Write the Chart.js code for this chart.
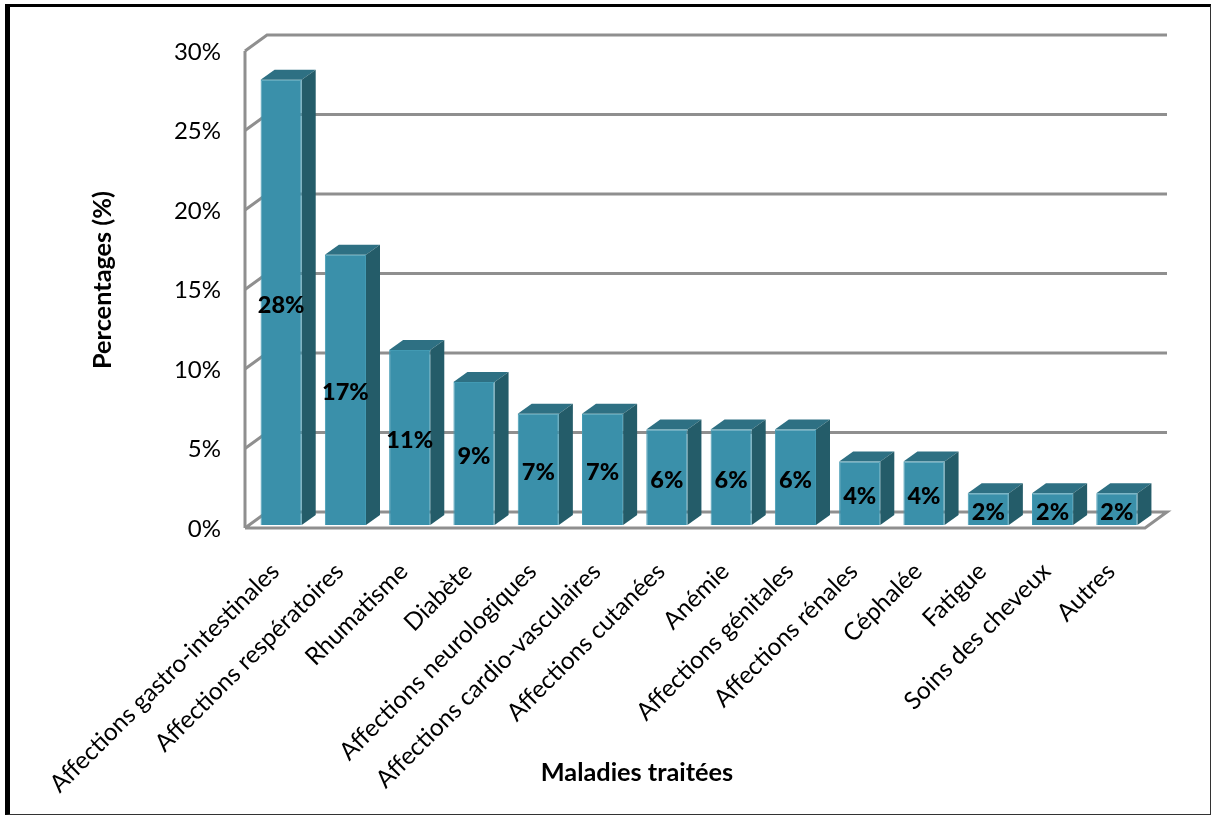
<!DOCTYPE html>
<html lang="fr">
<head>
<meta charset="utf-8">
<title>Maladies traitées</title>
<script src="https://cdn.jsdelivr.net/npm/chart.js@4/dist/chart.umd.min.js"></script>
<style>
  body { margin: 0; background: #fff; }
  #frame {
    position: absolute; left: 5px; top: 4px; width: 1206px; height: 811px;
    box-sizing: border-box; pointer-events: none;
    border-left: 5px solid #000; border-top: 3px solid #000;
    border-right: 1px solid #333; border-bottom: 1px solid #333;
  }
  canvas { position: absolute; left: 0; top: 0; }
</style>
</head>
<body>
<canvas id="chart" width="1212" height="816"></canvas>
<div id="frame"></div>
<script>
const categories = [
  "Affections gastro-intestinales", "Affections respératoires", "Rhumatisme", "Diabète",
  "Affections neurologiques", "Affections cardio-vasculaires", "Affections cutanées", "Anémie",
  "Affections génitales", "Affections rénales", "Céphalée", "Fatigue", "Soins des cheveux", "Autres"
];
const percentages = [28, 17, 11, 9, 7, 7, 6, 6, 6, 4, 4, 2, 2, 2];
const yTicks = [0, 5, 10, 15, 20, 25, 30];
const xTitle = "Maladies traitées";
const yTitle = "Percentages (%)";

const fontName = 'Lato, "Open Sans", sans-serif';
const gridColor = '#8f8f8f';

// walls and floor sit around the plane of the bar faces
const front = { dx: -4, dy: 3 };
const back = { dx: 18, dy: -13 };
const depth = { dx: 14, dy: -10 };

function line(ctx, points) {
  ctx.beginPath();
  points.forEach((p, i) => i ? ctx.lineTo(p[0], p[1]) : ctx.moveTo(p[0], p[1]));
  ctx.stroke();
}

function poly(ctx, points, color) {
  ctx.beginPath();
  points.forEach((p, i) => i ? ctx.lineTo(p[0], p[1]) : ctx.moveTo(p[0], p[1]));
  ctx.closePath();
  ctx.fillStyle = color;
  ctx.fill();
}

const box3d = {
  id: 'box3d',
  beforeDatasetsDraw(chart) {
    const { ctx, chartArea, scales } = chart;
    const l = chartArea.left, r = chartArea.right;
    ctx.save();
    ctx.strokeStyle = gridColor;
    ctx.lineWidth = 3;
    ctx.lineCap = 'butt';
    ctx.lineJoin = 'miter';

    // floor
    const y0 = scales.y.getPixelForValue(0);
    line(ctx, [
      [l + front.dx, y0 + front.dy], [r + front.dx, y0 + front.dy],
      [r + back.dx, y0 + back.dy], [l + back.dx, y0 + back.dy], [l + front.dx, y0 + front.dy]
    ]);

    // left wall and back grid
    const yTop = scales.y.getPixelForValue(30);
    line(ctx, [[l + front.dx, yTop + front.dy], [l + front.dx, y0 + front.dy]]);
    yTicks.filter(v => v > 0).forEach(v => {
      const y = scales.y.getPixelForValue(v);
      line(ctx, [[l + front.dx, y + front.dy], [l + back.dx, y + back.dy], [r + back.dx, y + back.dy]]);
    });

    // top and side of each bar
    chart.getDatasetMeta(0).data.forEach(bar => {
      const left = bar.x - bar.width / 2;
      const right = bar.x + bar.width / 2;
      poly(ctx, [[left, bar.y], [right, bar.y], [right + depth.dx, bar.y + depth.dy], [left + depth.dx, bar.y + depth.dy]], '#2e7083');
      poly(ctx, [[right, bar.y], [right + depth.dx, bar.y + depth.dy], [right + depth.dx, bar.base + depth.dy], [right, bar.base]], '#245c69');
    });
    ctx.restore();
  },
  afterDatasetsDraw(chart) {
    const { ctx } = chart;
    ctx.save();
    ctx.fillStyle = '#000';
    ctx.textAlign = 'center';
    ctx.textBaseline = 'middle';

    // value in the middle of each bar
    ctx.font = '900 23.5px ' + fontName;
    chart.getDatasetMeta(0).data.forEach((bar, i) => {
      ctx.fillText(percentages[i] + '%', bar.x, (bar.y + bar.base) / 2 + 3);
    });

    // axis titles
    ctx.font = 'bold 25.3px ' + fontName;
    ctx.fillText(xTitle, 637, 773);
    ctx.translate(103, 280);
    ctx.rotate(-Math.PI / 2);
    ctx.fillText(yTitle, 0, 0);
    ctx.restore();
  }
};

new Chart(document.getElementById('chart'), {
  type: 'bar',
  data: {
    labels: categories,
    datasets: [{
      data: percentages,
      backgroundColor: '#3a90aa',
      borderColor: '#429ab3',
      borderWidth: 1,
      categoryPercentage: 1,
      barPercentage: 0.64
    }]
  },
  plugins: [box3d],
  options: {
    responsive: false,
    animation: false,
    layout: { autoPadding: false, padding: { top: 48, right: 63, left: 0, bottom: 0 } },
    plugins: { legend: { display: false }, tooltip: { enabled: false } },
    scales: {
      x: {
        grid: { display: false },
        border: { display: false },
        afterFit(scale) { scale.height = 291; },
        ticks: {
          autoSkip: false,
          minRotation: 45,
          maxRotation: 45,
          padding: 24,
          labelOffset: -6,
          color: '#000',
          font: { family: fontName, size: 24.4 }
        }
      },
      y: {
        min: 0,
        max: 30,
        grid: { display: false },
        border: { display: false },
        afterFit(scale) { scale.width = 249; },
        ticks: {
          stepSize: 5,
          padding: 20,
          labelOffset: 4,
          color: '#000',
          font: { family: fontName, size: 24 },
          callback: v => v + '%'
        }
      }
    }
  }
});
</script>
</body>
</html>
